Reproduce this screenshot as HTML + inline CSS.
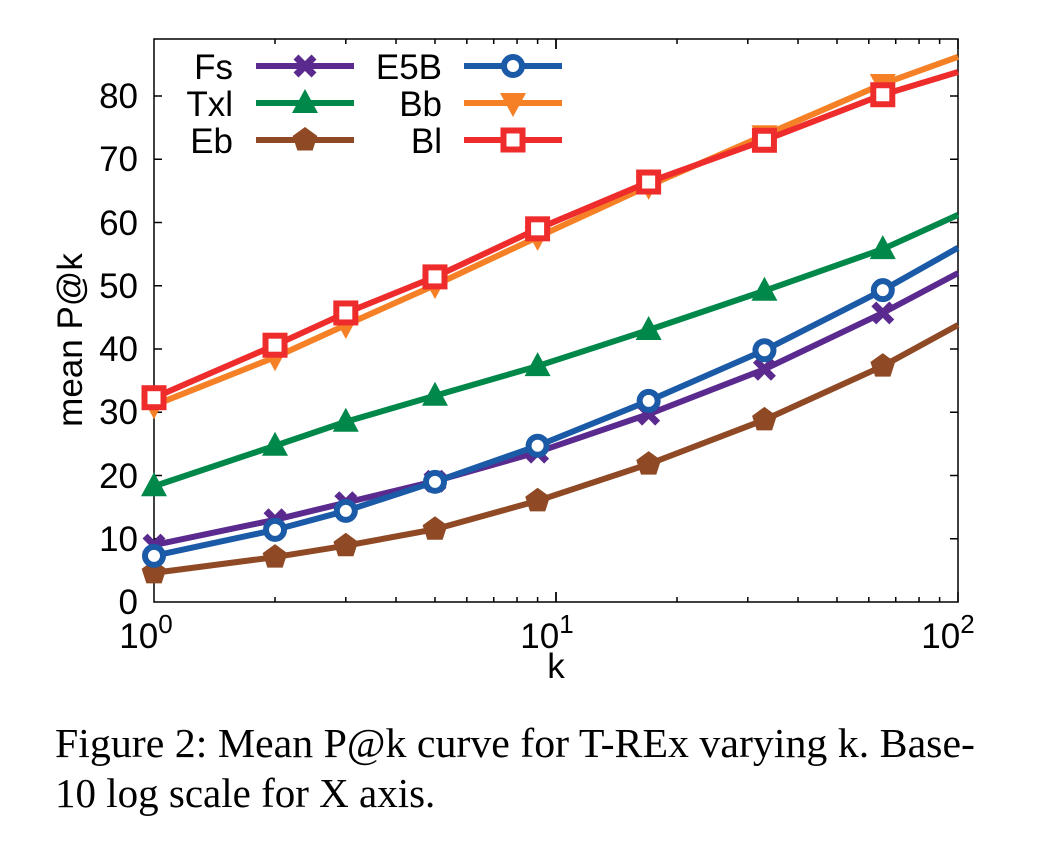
<!DOCTYPE html>
<html><head><meta charset="utf-8"><style>
html,body{margin:0;padding:0;background:#fff;width:1038px;height:846px;overflow:hidden}
svg{display:block}
.t{font-family:"Liberation Sans",sans-serif;font-size:35px;fill:#000}
.cap{font-family:"Liberation Serif",serif;font-size:41px;fill:#000}
</style></head><body>
<svg id="s" width="1038" height="846" viewBox="0 0 1038 846">
<rect x="154" y="39" width="804" height="563" fill="none" stroke="#000" stroke-width="1.5"/>
<g id="ticks" stroke="#000" stroke-width="1.5"></g>
<g class="t" text-anchor="end">
<text x="138" y="614">0</text><text x="138" y="551">10</text><text x="138" y="488">20</text>
<text x="138" y="424">30</text><text x="138" y="361">40</text><text x="138" y="298">50</text>
<text x="138" y="235">60</text><text x="138" y="171">70</text><text x="138" y="108">80</text>
</g>
<g class="t" text-anchor="middle">
<text x="146" y="648">10<tspan dy="-15" font-size="26">0</tspan></text>
<text x="547" y="648">10<tspan dy="-15" font-size="26">1</tspan></text>
<text x="948" y="648">10<tspan dy="-15" font-size="26">2</tspan></text>
<text x="556" y="678">k</text>
<text transform="translate(82,340) rotate(-90)">mean P@k</text>
</g>
<g class="t" text-anchor="end">
<text x="233" y="79">Fs</text><text x="233" y="116">Txl</text><text x="233" y="153">Eb</text>
<text x="442" y="79">E5B</text><text x="442" y="116">Bb</text><text x="442" y="153">Bl</text>
</g>
<g id="series"></g>
<text class="cap" x="55" y="757" textLength="920" lengthAdjust="spacingAndGlyphs">Figure 2: Mean P@k curve for T-REx varying k. Base-</text>
<text class="cap" x="55" y="807">10 log scale for X axis.</text>
</svg>
<script>
const NS="http://www.w3.org/2000/svg";
function X(k){return 154+402*Math.log10(k);}
function Y(v){return 602-6.325*v;}
function el(t,a,p){const e=document.createElementNS(NS,t);for(const k in a)e.setAttribute(k,a[k]);p.appendChild(e);return e;}
const tk=document.getElementById('ticks');
for(let v=10;v<=80;v+=10){el('line',{x1:154,x2:162,y1:Y(v),y2:Y(v)},tk);el('line',{x1:958,x2:950,y1:Y(v),y2:Y(v)},tk);}
for(let d=0;d<2;d++)for(let m=1;m<=10;m++){if(m==1&&d==0)continue;const x=X(m*Math.pow(10,d));const L=(m==1||m==10)?10:5;
el('line',{x1:x,x2:x,y1:602,y2:602-L},tk);el('line',{x1:x,x2:x,y1:39,y2:39+L},tk);}
const ks=[1,2,3,5,9,17,33,65,100];
const S=[
['#5b2a8f','x',[9,13,15.7,19.1,23.7,29.7,36.8,45.7,52],305,66],
['#00884a','tri',[18.3,24.7,28.5,32.6,37.3,43,49.2,55.8,61.2],305,103],
['#8f4a25','pent',[4.6,7.1,8.9,11.5,16,21.8,28.8,37.3,43.8],305,140],
['#1a5aa6','circ',[7.3,11.4,14.4,19,24.7,31.8,39.8,49.3,56],513,66],
['#f58025','itri',[31.1,38.7,43.8,50.1,57.7,65.8,73.8,81.9,86.2],513,103],
['#ee2c2c','sq',[32.3,40.6,45.7,51.4,59,66.4,73,80.2,83.8],513,140]];
const g=document.getElementById('series');
function mk(type,x,y,c){
 if(type=='x'){el('path',{d:`M${x-9} ${y-9}L${x+9} ${y+9}M${x-9} ${y+9}L${x+9} ${y-9}`,stroke:c,'stroke-width':7,fill:'none'},g);}
 else if(type=='tri'){el('polygon',{points:`${x},${y-14} ${x+13},${y+10} ${x-13},${y+10}`,fill:c},g);}
 else if(type=='itri'){el('polygon',{points:`${x},${y+14} ${x+13},${y-10} ${x-13},${y-10}`,fill:c},g);}
 else if(type=='pent'){let p=[];for(let i=0;i<5;i++){const a=-Math.PI/2+i*2*Math.PI/5;p.push((x+13*Math.cos(a))+','+(y+13*Math.sin(a)));}el('polygon',{points:p.join(' '),fill:c},g);}
 else if(type=='circ'){el('circle',{cx:x,cy:y,r:9,fill:'#fff',stroke:c,'stroke-width':6},g);}
 else if(type=='sq'){el('rect',{x:x-9.5,y:y-9.5,width:19,height:19,fill:'#fff',stroke:c,'stroke-width':6},g);}
}
for(const [c,t,vals,lx,ly] of S){
 el('polyline',{points:ks.map((k,i)=>X(k)+','+Y(vals[i])).join(' '),fill:'none',stroke:c,'stroke-width':6,'stroke-linejoin':'round'},g);
 for(let i=0;i<8;i++)mk(t,X(ks[i]),Y(vals[i]),c);
 el('line',{x1:lx-49,x2:lx+49,y1:ly,y2:ly,stroke:c,'stroke-width':6},g);
 mk(t,lx,ly,c);
}
</script>
</body></html>
